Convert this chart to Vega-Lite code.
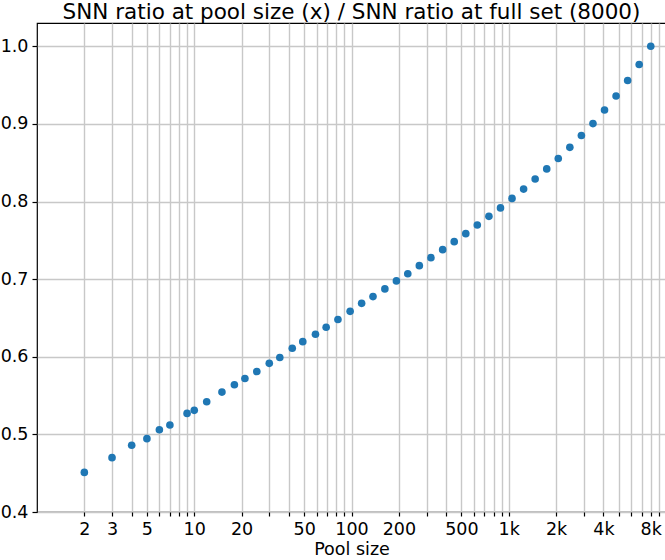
{
  "$schema": "https://vega.github.io/schema/vega-lite/v6.json",
  "width": 629,
  "height": 489,
  "autosize": "none",
  "padding": {"left": 37, "top": 23, "right": 0, "bottom": 48},
  "title": {
    "text": "SNN ratio at pool size (x) / SNN ratio at full set (8000)",
    "font": "DejaVu Sans",
    "fontSize": 21.5,
    "fontWeight": "normal",
    "color": "black",
    "anchor": "middle",
    "frame": "group",
    "offset": 0
  },
  "data": {
    "values": [
      {"pool_size": 2, "ratio": 0.451},
      {"pool_size": 3, "ratio": 0.470},
      {"pool_size": 4, "ratio": 0.486},
      {"pool_size": 5, "ratio": 0.4945},
      {"pool_size": 6, "ratio": 0.506},
      {"pool_size": 7, "ratio": 0.512},
      {"pool_size": 9, "ratio": 0.527},
      {"pool_size": 10, "ratio": 0.531},
      {"pool_size": 12, "ratio": 0.542},
      {"pool_size": 15, "ratio": 0.5545},
      {"pool_size": 18, "ratio": 0.564},
      {"pool_size": 21, "ratio": 0.572},
      {"pool_size": 25, "ratio": 0.581},
      {"pool_size": 30, "ratio": 0.5915},
      {"pool_size": 35, "ratio": 0.599},
      {"pool_size": 42, "ratio": 0.611},
      {"pool_size": 49, "ratio": 0.6195},
      {"pool_size": 59, "ratio": 0.629},
      {"pool_size": 69, "ratio": 0.638},
      {"pool_size": 82, "ratio": 0.648},
      {"pool_size": 98, "ratio": 0.6585},
      {"pool_size": 116, "ratio": 0.6688},
      {"pool_size": 137, "ratio": 0.6775},
      {"pool_size": 163, "ratio": 0.6874},
      {"pool_size": 193, "ratio": 0.6977},
      {"pool_size": 228, "ratio": 0.707},
      {"pool_size": 270, "ratio": 0.7174},
      {"pool_size": 320, "ratio": 0.7277},
      {"pool_size": 380, "ratio": 0.738},
      {"pool_size": 450, "ratio": 0.7483},
      {"pool_size": 533, "ratio": 0.7586},
      {"pool_size": 631, "ratio": 0.7698},
      {"pool_size": 748, "ratio": 0.7809},
      {"pool_size": 886, "ratio": 0.7918},
      {"pool_size": 1049, "ratio": 0.804},
      {"pool_size": 1243, "ratio": 0.816},
      {"pool_size": 1472, "ratio": 0.829},
      {"pool_size": 1744, "ratio": 0.842},
      {"pool_size": 2065, "ratio": 0.8555},
      {"pool_size": 2446, "ratio": 0.8698},
      {"pool_size": 2897, "ratio": 0.885},
      {"pool_size": 3432, "ratio": 0.9004},
      {"pool_size": 4065, "ratio": 0.918},
      {"pool_size": 4814, "ratio": 0.936},
      {"pool_size": 5703, "ratio": 0.956},
      {"pool_size": 6753, "ratio": 0.9766},
      {"pool_size": 8000, "ratio": 1.0}
    ]
  },
  "mark": {"type": "circle", "size": 58, "opacity": 1, "color": "#1f77b4"},
  "encoding": {
    "x": {
      "field": "pool_size",
      "type": "quantitative",
      "scale": {"type": "log", "domain": [1, 10000], "nice": false},
      "axis": {
        "title": "Pool size",
        "values": [2, 3, 4, 5, 6, 7, 8, 9, 10, 20, 30, 40, 50, 60, 70, 80, 90, 100, 200, 300, 400, 500, 600, 700, 800, 900, 1000, 2000, 3000, 4000, 5000, 6000, 7000, 8000, 9000],
        "labelExpr": "indexof([2, 3, 5, 10, 20, 50, 100, 200, 500, 1000, 2000, 4000, 8000], datum.value) >= 0 ? (datum.value >= 1000 ? (datum.value / 1000) + 'k' : datum.value + '') : ''",
        "labelOverlap": false,
        "labelFlush": false,
        "tickSize": 4,
        "labelPadding": 4,
        "titlePadding": 3
      }
    },
    "y": {
      "field": "ratio",
      "type": "quantitative",
      "scale": {"domain": [0.4, 1.03], "nice": false, "zero": false},
      "axis": {
        "title": null,
        "values": [0.4, 0.5, 0.6, 0.7, 0.8, 0.9, 1.0],
        "format": ".1f",
        "tickSize": 5,
        "labelPadding": 4
      }
    }
  },
  "config": {
    "view": {"stroke": "black", "strokeWidth": 1.2},
    "axis": {
      "domain": false,
      "grid": true,
      "gridColor": "#c8c8c8",
      "gridWidth": 1.4,
      "gridOpacity": 1,
      "tickColor": "black",
      "tickWidth": 1.2,
      "labelFont": "DejaVu Sans",
      "labelFontSize": 17.5,
      "labelColor": "black",
      "titleFont": "DejaVu Sans",
      "titleFontSize": 17.5,
      "titleFontWeight": "normal",
      "titleColor": "black"
    }
  }
}
